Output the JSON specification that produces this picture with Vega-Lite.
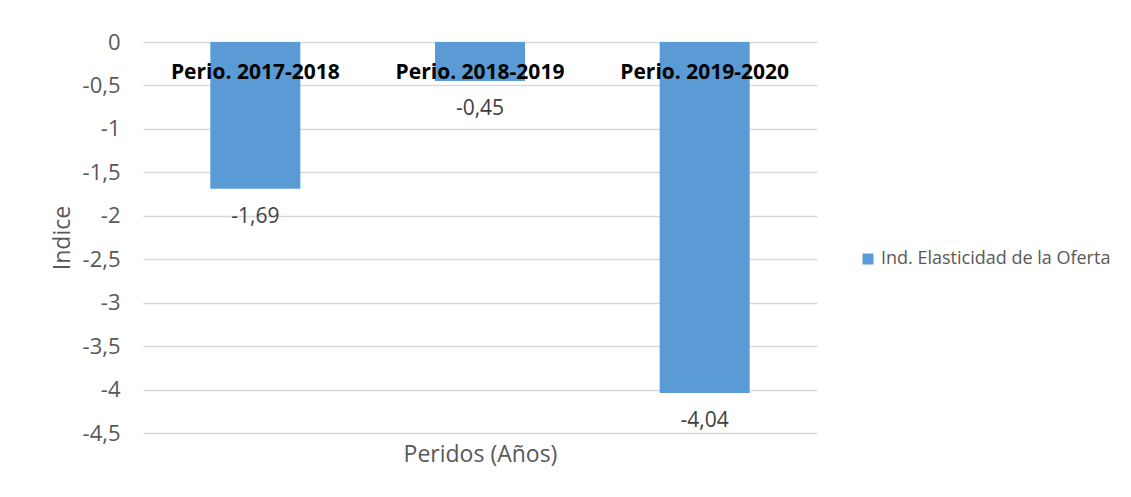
{
  "$schema": "https://vega.github.io/schema/vega-lite/v6.json",
  "autosize": {"type": "none"},
  "width": 674,
  "height": 391,
  "padding": {"left": 143, "top": 42, "right": 314, "bottom": 64},
  "background": "white",
  "config": {
    "font": "Open Sans",
    "view": {"stroke": null},
    "locale": {"number": {"decimal": ",", "thousands": ".", "grouping": [3], "currency": ["", ""], "minus": "-"}}
  },
  "data": {
    "values": [
      {"periodo": "Perio. 2017-2018", "valor": -1.69, "serie": "Ind. Elasticidad de la Oferta"},
      {"periodo": "Perio. 2018-2019", "valor": -0.45, "serie": "Ind. Elasticidad de la Oferta"},
      {"periodo": "Perio. 2019-2020", "valor": -4.04, "serie": "Ind. Elasticidad de la Oferta"}
    ]
  },
  "encoding": {
    "x": {
      "field": "periodo",
      "type": "nominal",
      "sort": null,
      "scale": {"paddingInner": 0, "paddingOuter": 0},
      "axis": {
        "title": "Peridos (Años)",
        "labels": false,
        "ticks": false,
        "domain": false,
        "titleFont": "Open Sans",
        "titleFontSize": 23,
        "titleFontWeight": "normal",
        "titleColor": "#595959",
        "titlePadding": 10
      }
    }
  },
  "layer": [
    {
      "mark": {"type": "bar", "size": 90, "color": "#5B9BD5"},
      "encoding": {
        "y": {
          "field": "valor",
          "type": "quantitative",
          "scale": {"domain": [-4.5, 0], "nice": false},
          "axis": {
            "title": "Indice",
            "values": [0, -0.5, -1, -1.5, -2, -2.5, -3, -3.5, -4, -4.5],
            "format": ".2~f",
            "domain": false,
            "ticks": false,
            "grid": true,
            "gridColor": "#d9d9d9",
            "gridWidth": 1.3,
            "labelFontSize": 22,
            "labelColor": "#595959",
            "labelPadding": 23,
            "titleFontSize": 23,
            "titleFontWeight": "normal",
            "titleColor": "#595959",
            "titlePadding": 8
          }
        },
        "color": {
          "field": "serie",
          "type": "nominal",
          "scale": {"range": ["#5B9BD5"]},
          "legend": {
            "title": null,
            "orient": "none",
            "legendX": 716,
            "legendY": 208,
            "symbolType": "square",
            "symbolSize": 121,
            "symbolStrokeWidth": 0,
            "labelFontSize": 18,
            "labelColor": "#595959",
            "labelOffset": 4,
            "labelLimit": 0,
            "padding": 0
          }
        }
      }
    },
    {
      "mark": {"type": "text", "baseline": "middle", "dy": 28, "fontSize": 21, "color": "#404040"},
      "encoding": {
        "y": {"field": "valor", "type": "quantitative"},
        "text": {"field": "valor", "type": "quantitative", "format": ".2f"}
      }
    },
    {
      "mark": {"type": "text", "baseline": "middle", "dy": 31, "fontSize": 21, "fontWeight": "bold", "color": "#000000"},
      "encoding": {
        "y": {"datum": 0},
        "text": {"field": "periodo", "type": "nominal"}
      }
    }
  ]
}
